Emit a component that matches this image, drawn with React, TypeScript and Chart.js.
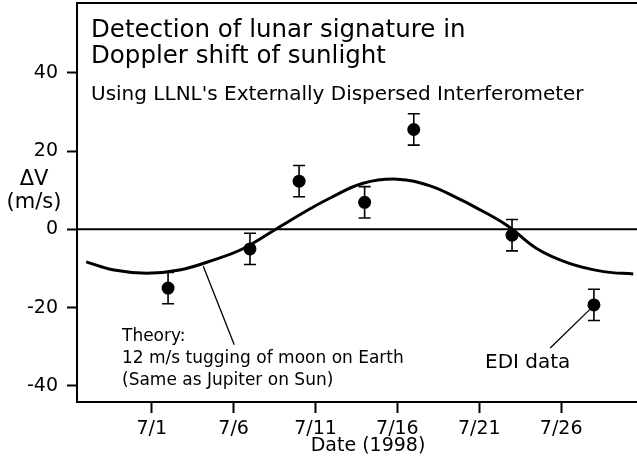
import React, { useEffect, useRef } from 'react';
import { Chart, registerables } from 'chart.js';

Chart.register(...registerables);

// Theory curve (day of July 1998, m/s)
const theoryDays = [-3.0, -1.3, 0.7, 2.7, 4.8, 6.6, 8.6, 10.7, 11.9, 13.9, 16.0, 18.0, 19.7, 20.6, 22.7, 24.5, 26.5, 28.6, 30.4];
const theoryValues = [-8.3, -10.4, -11.2, -10.4, -7.8, -4.9, 0.1, 5.3, 8.0, 11.75, 12.8, 11.1, 7.9, 6.0, 1.0, -4.9, -8.7, -10.8, -11.4];

// EDI data points
const ediDays = [2, 7, 10, 14, 17, 23, 28];
const ediValues = [-15.0, -5.0, 12.3, 6.9, 25.5, -1.5, -19.3];
const ediErrors = [4, 4, 4, 4, 4, 4, 4];

// Axes
const xTickDays = [1, 6, 11, 16, 21, 26];
const xTickLabels = ['7/1', '7/6', '7/11', '7/16', '7/21', '7/26'];
const yTicks = [-40, -20, 0, 20, 40];
const xMin = -3.56;
const xMax = 30.63;
const yMin = -44.1;
const yMax = 57.8;

// Texts
const titleLines = ['Detection of lunar signature in', 'Doppler shift of sunlight'];
const subtitle = "Using LLNL's Externally Dispersed Interferometer";
const theoryNote = ['Theory:', '12 m/s tugging of moon on Earth', '(Same as Jupiter on Sun)'];
const ediNote = 'EDI data';
const xTitle = 'Date (1998)';
const yTitleLines = ['\u0394V', '(m/s)'];

// Leader lines (data coordinates)
const theoryLeader = [[4.15, -9.45], [6.04, -29.5]];
const ediLeader = [[25.33, -30.3], [27.74, -20.5]];

const FONT = '"DejaVu Sans", "Liberation Sans", Arial, sans-serif';

const zeroPadding = (scale: any) => {
  scale.paddingTop = 0;
  scale.paddingBottom = 0;
  scale.paddingLeft = 0;
  scale.paddingRight = 0;
};

const decorPlugin = {
  id: 'decor',
  beforeDatasetsDraw(chart: any) {
    const { ctx, chartArea, scales } = chart;
    const xs = scales.x;
    const ys = scales.y;
    ctx.save();
    ctx.strokeStyle = '#000';
    // top border
    ctx.lineWidth = 2;
    ctx.beginPath();
    ctx.moveTo(chartArea.left, chartArea.top);
    ctx.lineTo(chartArea.right, chartArea.top);
    ctx.stroke();
    // zero line
    const y0 = ys.getPixelForValue(0);
    ctx.lineWidth = 2;
    ctx.beginPath();
    ctx.moveTo(chartArea.left, y0);
    ctx.lineTo(chartArea.right, y0);
    ctx.stroke();
    // error bars
    ctx.lineWidth = 1.6;
    const cap = 6;
    for (let i = 0; i < ediDays.length; i++) {
      const px = xs.getPixelForValue(ediDays[i]);
      const top = ys.getPixelForValue(ediValues[i] + ediErrors[i]);
      const bot = ys.getPixelForValue(ediValues[i] - ediErrors[i]);
      ctx.beginPath();
      ctx.moveTo(px, top);
      ctx.lineTo(px, bot);
      ctx.moveTo(px - cap, top);
      ctx.lineTo(px + cap, top);
      ctx.moveTo(px - cap, bot);
      ctx.lineTo(px + cap, bot);
      ctx.stroke();
    }
    // leader lines
    ctx.lineWidth = 1.3;
    for (const ld of [theoryLeader, ediLeader]) {
      ctx.beginPath();
      ctx.moveTo(xs.getPixelForValue(ld[0][0]), ys.getPixelForValue(ld[0][1]));
      ctx.lineTo(xs.getPixelForValue(ld[1][0]), ys.getPixelForValue(ld[1][1]));
      ctx.stroke();
    }
    ctx.restore();
  },
  afterDraw(chart: any) {
    const { ctx } = chart;
    ctx.save();
    ctx.fillStyle = '#000';
    ctx.textBaseline = 'alphabetic';
    ctx.textAlign = 'left';
    ctx.font = `24.5px ${FONT}`;
    ctx.fillText(titleLines[0], 91, 37);
    ctx.fillText(titleLines[1], 91, 63);
    ctx.font = `20px ${FONT}`;
    ctx.fillText(subtitle, 91, 100);
    ctx.font = `17px ${FONT}`;
    ctx.fillText(theoryNote[0], 122, 341);
    ctx.fillText(theoryNote[1], 122, 363);
    ctx.fillText(theoryNote[2], 122, 385);
    ctx.font = `20px ${FONT}`;
    ctx.fillText(ediNote, 485, 368);
    ctx.textAlign = 'center';
    ctx.font = `19px ${FONT}`;
    ctx.fillText(xTitle, 368, 451);
    ctx.font = `21px ${FONT}`;
    ctx.fillText(yTitleLines[0], 34, 185);
    ctx.fillText(yTitleLines[1], 34, 208);
    ctx.restore();
  },
};

export default function App() {
  const canvasRef = useRef<HTMLCanvasElement | null>(null);

  useEffect(() => {
    const canvas = canvasRef.current;
    if (!canvas) return;
    const tickFont = { family: FONT, size: 19 };
    const chart = new Chart(canvas, {
      type: 'line',
      data: {
        datasets: [
          {
            label: 'Theory',
            data: theoryDays.map((d, i) => ({ x: d, y: theoryValues[i] })),
            borderColor: '#000',
            borderWidth: 3,
            pointRadius: 0,
            tension: 0.4,
            fill: false,
          },
          {
            label: 'EDI data',
            data: ediDays.map((d, i) => ({ x: d, y: ediValues[i] })),
            showLine: false,
            pointRadius: 6.5,
            pointBackgroundColor: '#000',
            pointBorderColor: '#000',
            pointBorderWidth: 0,
            borderColor: '#000',
            backgroundColor: '#000',
          },
        ],
      },
      options: {
        animation: false,
        responsive: false,
        events: [],
        layout: { autoPadding: false, padding: { top: 3, right: 0, left: 0, bottom: 0 } },
        plugins: {
          legend: { display: false },
          tooltip: { enabled: false },
          title: { display: false },
        },
        scales: {
          x: {
            type: 'linear',
            position: 'bottom',
            min: xMin,
            max: xMax,
            afterBuildTicks: (scale: any) => {
              scale.ticks = xTickDays.map((v) => ({ value: v }));
            },
            afterFit: (scale: any) => {
              scale.height = 66;
              zeroPadding(scale);
            },
            grid: {
              drawOnChartArea: false,
              drawTicks: true,
              tickLength: 11,
              tickWidth: 2,
              tickColor: '#000',
              color: '#000',
            },
            border: { display: true, color: '#000', width: 2 },
            ticks: {
              includeBounds: false,
              autoSkip: false,
              maxRotation: 0,
              padding: 5,
              color: '#000',
              font: tickFont,
              callback: (v: any) => {
                const idx = xTickDays.indexOf(Number(v));
                return idx >= 0 ? xTickLabels[idx] : '';
              },
            },
          },
          y: {
            type: 'linear',
            min: yMin,
            max: yMax,
            afterBuildTicks: (scale: any) => {
              scale.ticks = yTicks.map((v) => ({ value: v }));
            },
            afterFit: (scale: any) => {
              scale.width = 77;
              zeroPadding(scale);
            },
            grid: {
              drawOnChartArea: false,
              drawTicks: true,
              tickLength: 10,
              tickWidth: 2,
              tickColor: '#000',
              color: '#000',
            },
            border: { display: true, color: '#000', width: 2 },
            ticks: {
              includeBounds: false,
              padding: 9,
              color: '#000',
              font: tickFont,
              callback: (v: any) => String(v),
            },
          },
        },
      },
      plugins: [decorPlugin],
    } as any);
    return () => {
      chart.destroy();
    };
  }, []);

  return (
    <div style={{ position: 'absolute', left: 0, top: 0, width: 637, height: 468, background: '#fff' }}>
      <canvas ref={canvasRef} width={637} height={468} style={{ display: 'block' }} />
    </div>
  );
}
